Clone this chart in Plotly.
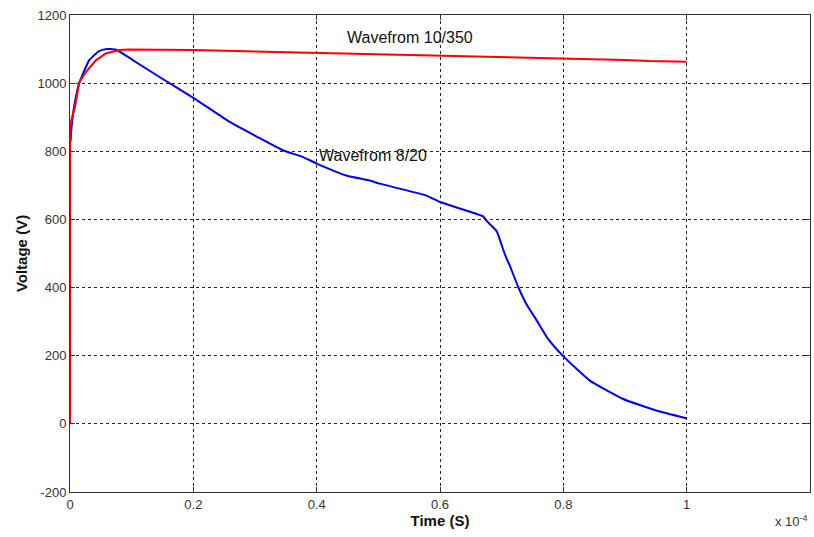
import plotly.graph_objects as go

# Time in units of 1e-4 s
t_red = [0.0, 0.0, 0.002, 0.008, 0.015, 0.026, 0.042, 0.058, 0.08, 0.095, 0.2, 0.3, 0.34, 0.4, 0.43, 0.5, 0.56, 0.6, 0.63, 0.7, 0.8, 0.9, 0.94, 1.0]
v_red = [0.0, 850, 890, 930, 1003, 1033, 1067, 1087, 1097, 1099, 1097, 1093, 1091, 1089, 1087, 1084, 1081, 1080, 1078, 1075, 1071, 1068, 1065, 1063]

t_blue = [0.001, 0.002, 0.007, 0.015, 0.031, 0.047, 0.06, 0.065, 0.075, 0.1, 0.145, 0.2, 0.259, 0.302, 0.345, 0.378, 0.4, 0.448, 0.486, 0.502, 0.578, 0.6, 0.67, 0.675, 0.692, 0.702, 0.708, 0.713, 0.727, 0.74, 0.757, 0.775, 0.8, 0.843, 0.897, 0.951, 1.0]
v_blue = [830, 860, 935, 1000, 1067, 1094, 1100, 1100, 1098, 1070, 1018, 957, 886, 844, 803, 783, 764, 729, 714, 705, 670, 651, 609, 597, 565, 514, 485, 465, 401, 352, 303, 250, 198, 127, 73, 39, 16]

x_ticks = [0, 0.2, 0.4, 0.6, 0.8, 1, 1.2]
x_tick_text = ["0", "0.2", "0.4", "0.6", "0.8", "1", "1.2"]
y_ticks = [-200, 0, 200, 400, 600, 800, 1000, 1200]
y_tick_text = ["-200", "0", "200", "400", "600", "800", "1000", "1200"]

fig = go.Figure()
fig.add_trace(go.Scatter(x=t_blue, y=v_blue, mode="lines", line=dict(color="#0000ff", width=2, shape="spline", smoothing=0.4), showlegend=False))
fig.add_trace(go.Scatter(x=t_red, y=v_red, mode="lines", line=dict(color="#ff0000", width=2), showlegend=False))

axis_common = dict(
    showline=True, linecolor="#333333", linewidth=1, mirror="ticks",
    ticks="inside", ticklen=5, tickcolor="#333333",
    showgrid=True, gridcolor="#222222", gridwidth=1, griddash="3px,3px",
    zeroline=False,
    tickfont=dict(family="Liberation Sans, Arial, sans-serif", size=13, color="#333333"),
)

fig.update_xaxes(range=[0, 1.2], tickvals=x_ticks, ticktext=x_tick_text,
                 title=dict(text="<b>Time (S)</b>", font=dict(family="Liberation Sans, Arial", size=15, color="#111"), standoff=4),
                 **axis_common)
fig.update_yaxes(range=[-200, 1200], tickvals=y_ticks, ticktext=y_tick_text,
                 title=dict(text="<b>Voltage (V)</b>", font=dict(family="Liberation Sans, Arial", size=15, color="#111"), standoff=6),
                 **axis_common)

fig.add_annotation(x=0.552, y=1134, text="Wavefrom 10/350", showarrow=False,
                   font=dict(family="Liberation Sans, Arial", size=16, color="#111"))
fig.add_annotation(x=0.491, y=788, text="Wavefrom 8/20", showarrow=False,
                   font=dict(family="Liberation Sans, Arial", size=16, color="#111"))
fig.add_annotation(xref="paper", yref="paper", x=1.0, y=-0.04, xanchor="right", yanchor="top",
                   text="x 10<sup>-4</sup>", showarrow=False,
                   font=dict(family="Liberation Sans, Arial", size=13, color="#333333"))

fig.update_layout(
    width=814, height=537,
    margin=dict(l=70, r=4, t=15, b=45),
    paper_bgcolor="white", plot_bgcolor="white",
)

fig.write_html("out.html")
